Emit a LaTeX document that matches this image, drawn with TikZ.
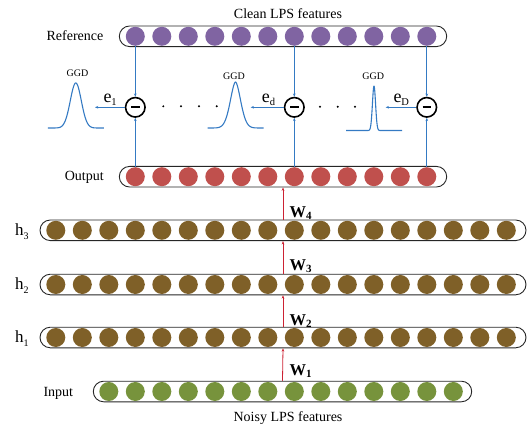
\documentclass[tikz,border=0pt]{standalone}
\usepackage{fontspec}
\setmainfont{Liberation Serif}
\usetikzlibrary{shapes.misc,arrows.meta}

\definecolor{refcol}{RGB}{128,100,162}
\definecolor{outcol}{RGB}{192,80,77}
\definecolor{hidcol}{RGB}{127,96,40}
\definecolor{incol}{RGB}{119,147,60}
\definecolor{linkblue}{RGB}{52,122,195}
\definecolor{wred}{RGB}{204,34,51}

% error label e with a small lowered index
\newcommand{\errlab}[1]{{\fontsize{18}{18}\selectfont e}{\fontsize{10.5}{10.5}\selectfont\raisebox{-2.5pt}{#1}}}
% bold weight label W with a small lowered index
\newcommand{\wlab}[1]{{\bfseries\fontsize{16.5}{16.5}\selectfont W}{\bfseries\fontsize{11}{11}\selectfont\raisebox{-2pt}{#1}}}
% layer label h with a small lowered index
\newcommand{\hlab}[1]{{\fontsize{17}{17}\selectfont h}{\fontsize{10}{10}\selectfont\raisebox{-3.8pt}{#1}}}

\begin{document}
\begin{tikzpicture}[x=1pt,y=-1pt,
  pill/.style={rounded rectangle, draw=black!85, line width=0.9pt, inner sep=0pt, minimum height=20.6pt},
  unit/.style={circle, inner sep=0pt, minimum size=19pt, draw=none},
  minusnode/.style={circle, draw=black, line width=1.6pt, fill=white, inner sep=0pt, minimum size=19.5pt},
  bluelink/.style={draw=linkblue, line width=0.9pt, -{Stealth[length=3.2pt,width=2.6pt]}},
  redlink/.style={draw=wred, line width=0.8pt, -{Stealth[length=3.4pt,width=2.6pt]}},
  ggdcurve/.style={draw=linkblue, line width=1.1pt, line join=round},
  txt/.style={inner sep=0pt, font=\fontsize{14}{14}\selectfont},
  ggdtxt/.style={inner sep=0pt, font=\fontsize{10}{10}\selectfont}
]
\useasboundingbox (0,0) rectangle (530,425);

% ---- layers: outline pills ----
\node[pill, minimum width=327.4pt] (refpill) at (283,36.3) {};
\node[pill, minimum width=327.4pt] (outpill) at (283,176.7) {};
\node[pill, minimum width=486pt] (h3pill) at (283,230.3) {};
\node[pill, minimum width=486pt] (h2pill) at (283,284.5) {};
\node[pill, minimum width=486pt] (h1pill) at (283,337.5) {};
\node[pill, minimum width=378.4pt] (inpill) at (282.5,391.5) {};

% ---- layers: units ----
\foreach \k in {3,...,14} {
  \node[unit, fill=refcol] (ref\k) at ({55.8+26.5*\k},36.3) {};
  \node[unit, fill=outcol] (out\k) at ({55.8+26.5*\k},176.7) {};
}
\foreach \k in {0,...,17} {
  \node[unit, fill=hidcol] (hthree\k) at ({55.8+26.5*\k},230.3) {};
  \node[unit, fill=hidcol] (htwo\k) at ({55.8+26.5*\k},284.5) {};
  \node[unit, fill=hidcol] (hone\k) at ({55.8+26.5*\k},337.5) {};
}
\foreach \k in {2,...,15} {
  \node[unit, fill=incol] (in\k) at ({55.8+26.5*\k},391.5) {};
}

% ---- layer labels ----
\node[txt, anchor=base] (cleanlab) at (288,18.7) {Clean LPS features};
\node[txt, anchor=base] (reflab) at (75,40.7) {Reference};
\node[txt, anchor=base] (outlab) at (84.2,180.5) {Output};
\node[txt, anchor=base] (inlab) at (58.3,396.5) {Input};
\node[txt, anchor=base] (noisylab) at (288,421.5) {Noisy LPS features};
\node[inner sep=0pt, anchor=base west] (hthreelab) at (15,235.7) {\hlab{3}};
\node[inner sep=0pt, anchor=base west] (htwolab) at (15,289.9) {\hlab{2}};
\node[inner sep=0pt, anchor=base west] (honelab) at (15,342.9) {\hlab{1}};

% ---- weight connections ----
\draw[redlink] (inpill.north) -- (h1pill.south);
\draw[redlink] (h1pill.north) -- (h2pill.south);
\draw[redlink] (h2pill.north) -- (h3pill.south);
\draw[redlink] (h3pill.north) -- (outpill.south);
\node[inner sep=0pt, anchor=base west] (wone) at (289.5,375.3) {\wlab{1}};
\node[inner sep=0pt, anchor=base west] (wtwo) at (289.5,325) {\wlab{2}};
\node[inner sep=0pt, anchor=base west] (wthree) at (289.5,270.5) {\wlab{3}};
\node[inner sep=0pt, anchor=base west] (wfour) at (289.5,217.3) {\wlab{4}};

% ---- difference units ----
\node[minusnode] (mone) at (135.3,107.3) {};
\node[minusnode] (md) at (294.3,107.3) {};
\node[minusnode] (mD) at (426.8,107.3) {};
\foreach \m in {mone,md,mD}
  \draw[line width=1.6pt] ([xshift=-4.3pt]\m.center) -- ([xshift=4.3pt]\m.center);

\draw[bluelink] (ref3.south) -- (mone.north);
\draw[bluelink] (ref9.south) -- (md.north);
\draw[bluelink] (ref14.south) -- (mD.north);
\draw[bluelink] (out3.north) -- (mone.south);
\draw[bluelink] (out9.north) -- (md.south);
\draw[bluelink] (out14.north) -- (mD.south);

% ---- error outputs ----
\coordinate (eonetip) at (95,107.3);
\coordinate (edtip) at (250.7,107.3);
\coordinate (eDtip) at (385.7,107.3);
\draw[bluelink] (mone.west) -- (eonetip);
\draw[bluelink] (md.west) -- (edtip);
\draw[bluelink] (mD.west) -- (eDtip);
\node[inner sep=0pt, anchor=base west] (eonelab) at (103.3,102.7) {\errlab{1}};
\node[inner sep=0pt, anchor=base west] (edlab) at (261.7,102.7) {\errlab{d}};
\node[inner sep=0pt, anchor=base west] (eDlab) at (393.3,102.7) {\errlab{D}};

% ---- GGD densities ----
\draw[ggdcurve] plot[domain=-28:28, samples=200]
  ({75.8+\x}, {128-45*exp(-min(20,(\x/7.8)^2))});
\draw[ggdcurve] plot[domain=-28:28, samples=200]
  ({235.5+\x}, {128-46*exp(-min(20,(abs(\x)/7.4+0.0001)^1.8))});
\draw[ggdcurve] plot[domain=-28:28, samples=240]
  ({374+\x}, {130.5-44.5*exp(-min(20,(\x/2.2)^2))});
\node[ggdtxt] (ggdone) at (77.5,73) {GGD};
\node[ggdtxt] (ggdd) at (234,76) {GGD};
\node[ggdtxt] (ggdD) at (373.3,76) {GGD};

% ---- ellipsis dots ----
\foreach \x in {163.3,181,199,216.7}
  \fill (\x,106.3) circle (1.1);
\foreach \x in {320,337.7,355}
  \fill (\x,106.8) circle (1.1);
\end{tikzpicture}
\end{document}
